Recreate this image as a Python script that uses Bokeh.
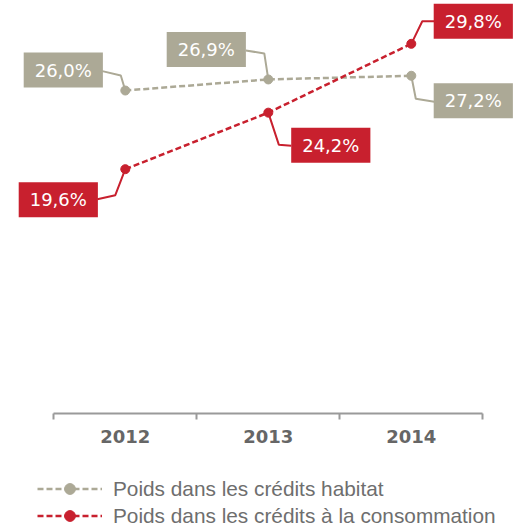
from bokeh.plotting import figure
from bokeh.layouts import column
from bokeh.models import Range1d, LinearAxis, FixedTicker, Legend, LegendItem, ColumnDataSource
from bokeh.core.properties import value
from bokeh.embed import file_html
from bokeh.resources import INLINE

# ---- data ----
years = ["2012", "2013", "2014"]
habitat = [26.0, 26.9, 27.2]
conso = [19.6, 24.2, 29.8]
habitat_labels = ["26,0%", "26,9%", "27,2%"]
conso_labels = ["19,6%", "24,2%", "29,8%"]
series_names = ["Poids dans les crédits habitat",
                "Poids dans les crédits à la consommation"]

# ---- layout / style ----
GREY = "#aca996"
RED = "#c8202e"
W = 523
H1 = 470
FRAME_H = 413
H2 = 59
X0 = -0.3727
X1 = X0 + W / 143.0
Y0 = -0.28
Y1 = Y0 + FRAME_H / 12.29
px_x = W / (X1 - X0)
px_y = FRAME_H / (Y1 - Y0)

# label box offsets (screen px, y down) relative to the data point
hab_off = [(-62, -20.4), (-62, -30), (62, 25)]
con_off = [(-67, 30.5), (62.5, 32.5), (62, -22.5)]
# connector elbows (screen px, y down) relative to the data point
hab_conn = [[(0, 0), (-4.5, -15), (-23, -19.4)],
            [(0, 0), (-4, -26), (-22.5, -29)],
            [(0, 0), (4.5, 23), (23, 26)]]
con_conn = [[(0, 0), (-10, 26), (-28, 30)],
            [(0, 0), (10.5, 32), (23, 33)],
            [(0, 0), (11, -22.6), (23, -22.6)]]

xs = [i + 0.5 for i in range(len(years))]

p = figure(width=W, height=H1,
           x_range=Range1d(X0, X1), y_range=Range1d(Y0, Y1),
           output_backend="svg", toolbar_location=None,
           x_axis_location=None, y_axis_location=None,
           min_border_left=0, min_border_right=0, min_border_top=0,
           min_border_bottom=H1 - FRAME_H)
p.outline_line_color = None
p.grid.visible = False
p.background_fill_color = "white"
p.border_fill_color = "white"

# axis
ticker = FixedTicker(ticks=xs, minor_ticks=list(range(len(years) + 1)))
ax = LinearAxis(ticker=ticker, bounds=(0, len(years)))
ax.major_label_overrides = {x: y for x, y in zip(xs, years)}
ax.major_tick_in = 0
ax.major_tick_out = 0
ax.minor_tick_in = 0
ax.minor_tick_out = 6
ax.minor_tick_line_color = "#9a9a9a"
ax.minor_tick_line_width = 2
ax.axis_line_color = "#9a9a9a"
ax.axis_line_width = 2
ax.major_label_text_font = "DejaVu Sans"
ax.major_label_text_font_style = "bold"
ax.major_label_text_font_size = "18px"
ax.major_label_text_color = "#666666"
ax.major_label_standoff = 10
p.add_layout(ax, "below")


def connectors(vals, conn, color):
    cx, cy = [], []
    for x, v, pts in zip(xs, vals, conn):
        cx.append([x + dx / px_x for dx, dy in pts])
        cy.append([v - dy / px_y for dx, dy in pts])
    p.multi_line(cx, cy, line_color=color, line_width=2)


connectors(habitat, hab_conn, GREY)
connectors(conso, con_conn, RED)

p.line(xs, habitat, line_color=GREY, line_width=2.5, line_dash="6 3")
p.scatter(xs, habitat, size=9, fill_color=GREY, line_color=GREY)
p.line(xs, conso, line_color=RED, line_width=2.5, line_dash="6 3")
p.scatter(xs, conso, size=9, fill_color=RED, line_color=RED)


def boxes(vals, labels, off, color):
    src = ColumnDataSource(dict(x=xs, y=vals, t=labels,
                                dx=[o[0] for o in off], dy=[o[1] for o in off]))
    p.text("x", "y", text="t", source=src, x_offset="dx", y_offset="dy",
           text_align="center", text_baseline="middle",
           text_font=value("DejaVu Sans"), text_font_size="18px",
           text_color="white", background_fill_color=color,
           padding=dict(left=11, right=11, top=7, bottom=7))


boxes(habitat, habitat_labels, hab_off, GREY)
boxes(conso, conso_labels, con_off, RED)

# ---- legend strip (same series, drawn out of its view range; only the legend shows) ----
p2 = figure(width=W, height=H2, x_range=Range1d(X0, X1), y_range=Range1d(-2, -1),
            output_backend="svg", toolbar_location=None,
            x_axis_location=None, y_axis_location=None,
            min_border_left=0, min_border_right=0, min_border_top=0,
            min_border_bottom=0)
p2.outline_line_color = None
p2.grid.visible = False
p2.border_fill_color = "white"
l1 = p2.line(xs, habitat, line_color=GREY, line_width=2.5, line_dash="6 3")
s1 = p2.scatter(xs, habitat, size=9, fill_color=GREY, line_color=GREY)
l2 = p2.line(xs, conso, line_color=RED, line_width=2.5, line_dash="6 3")
s2 = p2.scatter(xs, conso, size=9, fill_color=RED, line_color=RED)

legend = Legend(items=[LegendItem(label=series_names[0], renderers=[l1, s1]),
                       LegendItem(label=series_names[1], renderers=[l2, s2])],
                location=(37, 0), orientation="vertical",
                glyph_width=65, glyph_height=27, label_height=27, spacing=0,
                padding=0, margin=0, label_standoff=11,
                label_text_font="Liberation Sans", label_text_font_size="20.8px",
                label_text_color="#6e6e6e", border_line_color=None,
                background_fill_alpha=0)
p2.add_layout(legend, "center")

layout = column(p, p2, spacing=0)
open("out.html", "w").write(file_html(layout, INLINE))
